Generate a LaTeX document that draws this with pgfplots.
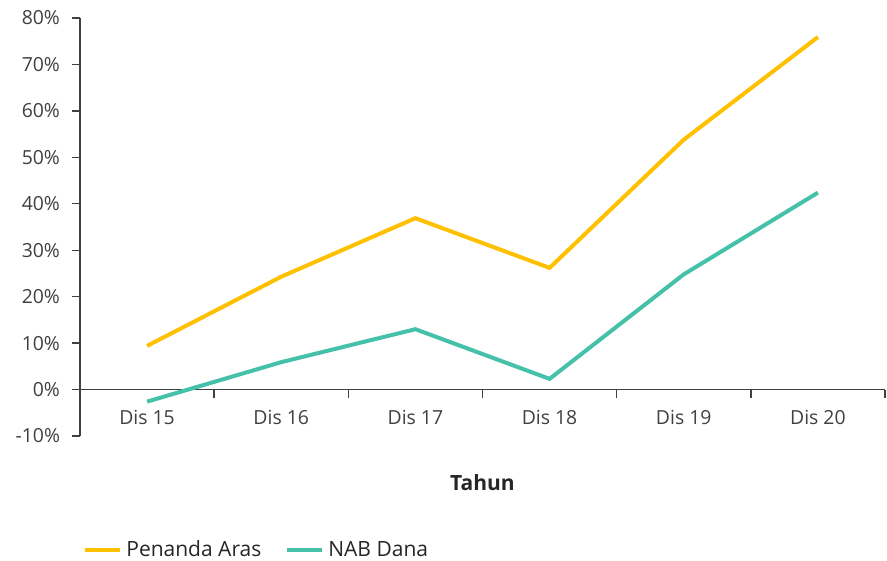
\documentclass[border=0pt]{standalone}
\usepackage{pgfplots}
\pgfplotsset{compat=1.18}
\usepackage{fontspec}
\setmainfont{Open Sans}
\definecolor{penanda}{HTML}{FFC000}
\definecolor{nab}{HTML}{45C1AA}
\definecolor{txt}{HTML}{404040}
\begin{document}
\begin{tikzpicture}
\path[use as bounding box] (0,0) rectangle (443.5bp,280.5bp);
\begin{axis}[
  at={(40bp,62.5bp)}, anchor=south west,
  scale only axis, width=402.5bp, height=209bp,
  xmin=-0.5, xmax=5.5, ymin=-10, ymax=80,
  axis y line=left, axis x line=middle,
  axis line style={-, draw=txt, line width=0.7bp},
  every tick/.style={draw=txt, line width=0.7bp},
  major tick length=4bp,
  tick align=outside,
  hide obscured x ticks=false,
  ytick={-10,0,...,80},
  yticklabel={\pgfmathprintnumber{\tick}\%},
  yticklabel style={xshift=-2.5bp},
  xtick={-0.5,0.5,...,5.5},
  xticklabels={},
  extra x ticks={0,1,2,3,4,5},
  extra x tick labels={Dis 15,Dis 16,Dis 17,Dis 18,Dis 19,Dis 20},
  extra x tick style={major tick length=0pt, xticklabel style={yshift=-7bp}},
  /pgf/number format/assume math mode=true,
  tick label style={font=\fontsize{9.7bp}{11bp}\selectfont, text=txt},
  xlabel={\textbf{Tahun}},
  xlabel style={at={(axis description cs:0.5,0)}, anchor=center, yshift=-23.5bp, font=\fontsize{10.5bp}{12bp}\selectfont, text=black!85},
  clip=false,
  legend columns=2,
  legend style={at={(axis description cs:0,0)}, anchor=west, yshift=-57bp, xshift=-1.5bp, draw=none, fill=none,
    font=\fontsize{10.5bp}{12bp}\selectfont, text=black!85,
    /tikz/every even column/.append style={column sep=10bp}},
  legend image code/.code={\draw[#1] (0bp,0bp) -- (17.5bp,0bp);},
]
\addplot[penanda, line width=2bp] coordinates {(0,9.4) (1,24.3) (2,36.9) (3,26.2) (4,53.8) (5,75.9)};
\addlegendentry{Penanda Aras}
\addplot[nab, line width=2bp] coordinates {(0,-2.6) (1,5.9) (2,13.0) (3,2.3) (4,24.8) (5,42.4)};
\addlegendentry{NAB Dana}
\end{axis}
\end{tikzpicture}
\end{document}
